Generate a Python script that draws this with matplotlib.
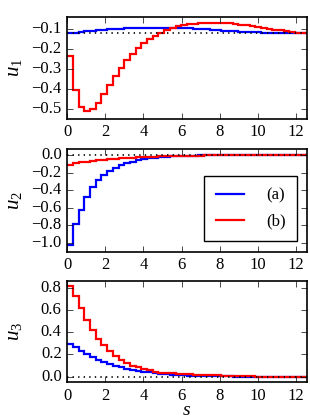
import numpy as np
import matplotlib
matplotlib.use("Agg")
from matplotlib import pyplot as plt

# step profiles, 42 equal steps on [0, 4*pi]
s_max = 4 * np.pi
n_steps = 42

u1_a = [-0.123, -0.120, -0.117, -0.113, -0.110, -0.107, -0.105, -0.103,
        -0.100, -0.099, -0.097, -0.096, -0.095, -0.095, -0.094, -0.094,
        -0.094, -0.095, -0.095, -0.096, -0.097, -0.098, -0.100, -0.101,
        -0.102, -0.105, -0.107, -0.109, -0.111, -0.113, -0.114, -0.115,
        -0.117, -0.118, -0.119, -0.119, -0.120, -0.120, -0.121, -0.121,
        -0.122, -0.122]
u1_b = [-0.237, -0.407, -0.493, -0.512, -0.502, -0.473, -0.428, -0.383,
        -0.338, -0.298, -0.258, -0.227, -0.198, -0.173, -0.153, -0.135,
        -0.120, -0.106, -0.095, -0.088, -0.083, -0.078, -0.075, -0.072,
        -0.070, -0.069, -0.069, -0.071, -0.073, -0.076, -0.079, -0.083,
        -0.087, -0.091, -0.096, -0.100, -0.104, -0.108, -0.112, -0.116,
        -0.120, -0.123]

u2_a = [-1.02, -0.79, -0.62, -0.48, -0.365, -0.285, -0.228, -0.183,
        -0.145, -0.114, -0.091, -0.076, -0.060, -0.048, -0.037, -0.029,
        -0.022, -0.016, -0.012, -0.009, -0.007, -0.005, -0.004, -0.003,
        -0.002, -0.002, -0.001, -0.001, 0, 0, 0, 0, 0, 0, 0, 0, 0, 0, 0,
        0, 0, 0]
u2_b = [-0.115, -0.092, -0.080, -0.072, -0.065, -0.058, -0.052, -0.046,
        -0.041, -0.036, -0.032, -0.028, -0.025, -0.022, -0.019, -0.016,
        -0.014, -0.012, -0.010, -0.008, -0.007, -0.006, -0.005, -0.004,
        -0.003, -0.003, -0.002, -0.002, -0.001, -0.001, 0, 0, 0, 0, 0, 0,
        0, 0, 0, 0, 0, 0]

u3_a = [0.296, 0.264, 0.234, 0.200, 0.175, 0.148, 0.130, 0.113, 0.095,
        0.083, 0.071, 0.062, 0.053, 0.045, 0.039, 0.033, 0.027, 0.023,
        0.019, 0.016, 0.013, 0.010, 0.008, 0.006, 0.005, 0.004, 0.003,
        0.002, 0.002, 0.001, 0.001, 0.001, 0, 0, 0, 0, 0, 0, 0, 0, 0, 0]
u3_b = [0.815, 0.726, 0.619, 0.510, 0.420, 0.340, 0.280, 0.230, 0.187,
        0.151, 0.121, 0.100, 0.083, 0.068, 0.056, 0.045, 0.037, 0.032,
        0.029, 0.026, 0.024, 0.021, 0.019, 0.017, 0.015, 0.013, 0.012,
        0.005, 0.004, 0.003, 0.003, 0.002, 0.002, 0.001, 0.001, 0.001,
        0.001, 0.001, 0.001, 0.001, 0.001, 0.001]

# dotted reference levels
ref_levels = [-0.122, 0.0, 0.0]
labels = ["(a)", "(b)"]
ylabels = [r"$u_\mathit{1}$", r"$u_\mathit{2}$", r"$u_\mathit{3}$"]
yticks = [[-0.5, -0.4, -0.3, -0.2, -0.1],
          [-1.0, -0.8, -0.6, -0.4, -0.2, 0.0],
          [0.0, 0.2, 0.4, 0.6, 0.8]]


def main():
    plt.style.use("classic")
    plt.rcParams["font.family"] = "serif"
    plt.rcParams["font.serif"] = ["Liberation Serif"]
    plt.rcParams["mathtext.fontset"] = "custom"
    plt.rcParams["mathtext.rm"] = "Liberation Serif"
    plt.rcParams["mathtext.it"] = "Liberation Serif:italic"
    plt.rcParams["font.size"] = 12
    plt.rcParams["xtick.labelsize"] = 12
    plt.rcParams["ytick.labelsize"] = 12

    edges = np.linspace(0, s_max, n_steps + 1)

    fig = plt.figure(figsize=(3.1, 4.2), dpi=100, facecolor="white")
    boxes = [(0.217, 0.717, 0.772, 0.243),
             (0.217, 0.401, 0.772, 0.244),
             (0.217, 0.090, 0.772, 0.241)]
    series = [(u1_a, u1_b), (u2_a, u2_b), (u3_a, u3_b)]
    ylims = [(-0.55, -0.04), (-1.1, 0.07), (-0.05, 0.86)]

    for i in range(3):
        ax = fig.add_axes(boxes[i])
        ax.axhline(ref_levels[i], color="k", ls=":", lw=1.2)
        ax.stairs(series[i][0], edges, baseline=None, color="b", lw=1.6,
                  label=labels[0])
        ax.stairs(series[i][1], edges, baseline=None, color="r", lw=1.6,
                  label=labels[1])
        ax.set_xlim(0, s_max)
        ax.set_ylim(*ylims[i])
        ax.set_xticks(np.arange(0, 13, 2))
        ax.set_yticks(yticks[i])
        ax.set_yticklabels([f"{v:.1f}".replace("-", "\u2212")
                            for v in yticks[i]])
        ax.set_ylabel(ylabels[i], fontsize=15)
        ax.yaxis.set_label_coords(-0.18, 0.5)
        ax.tick_params(direction="in", length=4, pad=4)
        for sp in ax.spines.values():
            sp.set_linewidth(1.2)
        if i == 1:
            ax.legend(loc="lower right", bbox_to_anchor=(0.961, 0.10),
                      borderaxespad=0, fontsize=12, handlelength=1.7,
                      handletextpad=1.3, labelspacing=0.6, borderpad=0.7,
                      fancybox=False, numpoints=2)
        if i == 2:
            ax.set_xlabel(r"$s$", fontsize=14, labelpad=-1)

    fig.savefig("out.png", dpi=100, facecolor="white")
    plt.close(fig)


if __name__ == "__main__":
    main()
